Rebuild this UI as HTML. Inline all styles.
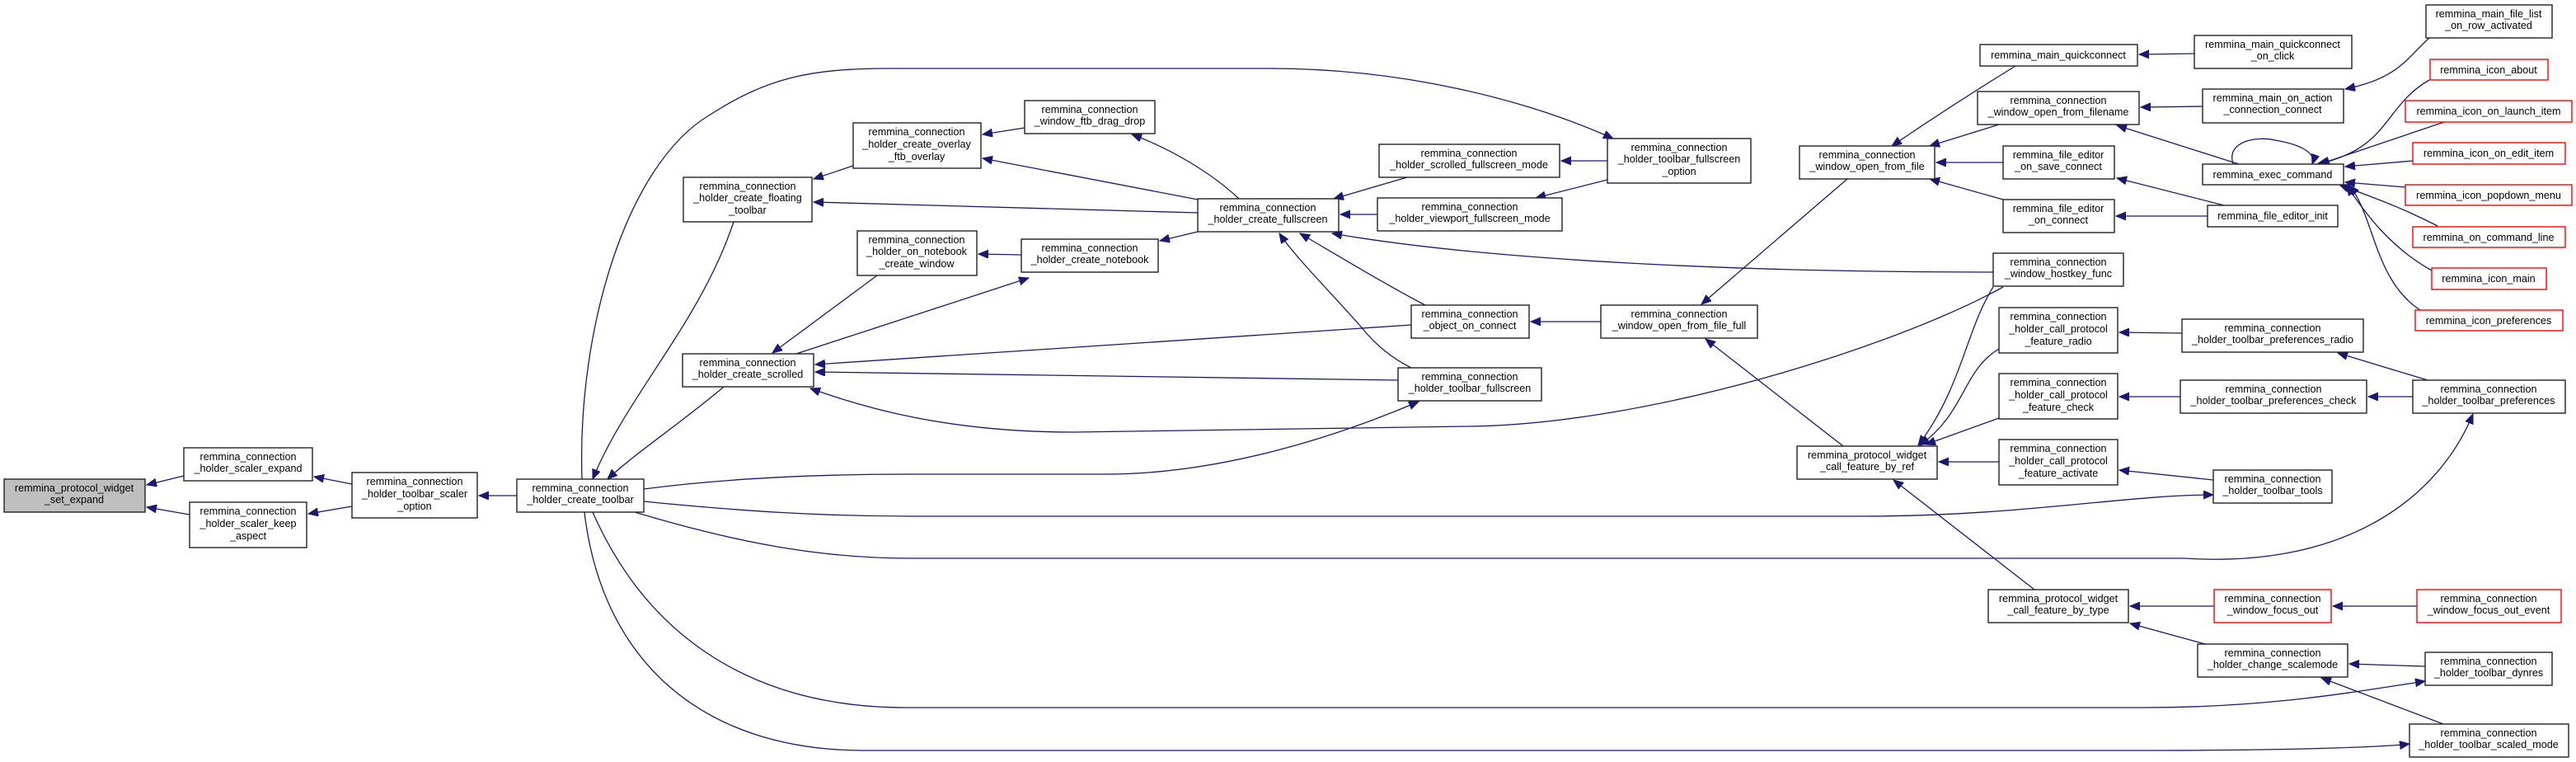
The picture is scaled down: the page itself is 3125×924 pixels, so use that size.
<!DOCTYPE html>
<html><head><meta charset="utf-8"><style>
html,body{margin:0;padding:0;background:#fff;}
svg{display:block;}
text{font-family:"Liberation Sans",Arial,sans-serif;font-size:12.6px;fill:#000;}
.e{fill:none;stroke:#191970;stroke-width:1.3;}
.n{fill:#fff;stroke:#222;stroke-width:1.4;}
.r{fill:#fff;stroke:#ff0000;stroke-width:1.4;}
</style></head><body>
<svg width="3125" height="924" viewBox="0 0 3125 924" xmlns="http://www.w3.org/2000/svg">
<defs>
<marker id="a" markerUnits="userSpaceOnUse" markerWidth="14" markerHeight="12" refX="12" refY="5" orient="auto">
<path d="M0,0 L12,5 L0,10 z" fill="#191970" stroke="#191970"/>
</marker>
</defs>
<g class="e" marker-end="url(#a)">
<path d="M223,577 L178,588"/>
<path d="M230,624 L178,615"/>
<path d="M427,587 L381,578"/>
<path d="M427,614 L374,623"/>
<path d="M627,601 L581,601"/>
<path d="M890,269 C850,390 760,480 719,581"/>
<path d="M878,469 C830,510 770,550 737,581"/>
<path d="M706,581 C700,400 760,200 860,140 C930,95 980,83 1080,83 L1540,83 C1700,83 1850,120 1957,168"/>
<path d="M781,593 C850,584 950,575 1105,575 L1341,575 C1480,575 1620,530 1721,487"/>
<path d="M781,608 C900,620 1000,626 1105,626 L2260,626 C2450,626 2580,600 2685,600"/>
<path d="M770,621 C900,660 1000,677 1105,677 L2650,677 C2850,690 2960,600 3000,502"/>
<path d="M719,621 C780,760 900,858 1099,858 L2600,858 C2750,858 2850,840 2942,826"/>
<path d="M709,621 C730,800 850,910 1048,910 L2600,910 C2800,910 2900,905 2923,902"/>
<path d="M1243,155 L1192,163"/>
<path d="M1453,242 L1192,192"/>
<path d="M1503,241 C1470,210 1420,180 1373,163"/>
<path d="M1035,201 L987,217"/>
<path d="M1453,258 L987,245"/>
<path d="M1239,309 L1187,308"/>
<path d="M1453,281 L1407,292"/>
<path d="M1064,334 L937,428"/>
<path d="M966,429 L1248,337"/>
<path d="M1707,215 L1618,241"/>
<path d="M1671,260 L1626,260"/>
<path d="M1950,195 L1894,195"/>
<path d="M1950,218 L1863,240"/>
<path d="M1712,446 C1690,435 1670,420 1650,395 C1610,350 1570,310 1552,283"/>
<path d="M1729,370 C1690,350 1640,320 1577,283"/>
<path d="M2418,330 C2100,330 1800,315 1616,283"/>
<path d="M1712,394 L989,442"/>
<path d="M1696,461 L989,451"/>
<path d="M2430,348 C2300,420 2000,515 1780,517 L1303,524 C1150,524 1050,495 983,471"/>
<path d="M1942,390 L1857,390"/>
<path d="M2241,217 L2064,369"/>
<path d="M2236,541 L2069,411"/>
<path d="M2445,80 C2380,120 2320,160 2295,177"/>
<path d="M2425,151 L2341,177"/>
<path d="M2430,197 L2349,197"/>
<path d="M2430,242 L2341,217"/>
<path d="M2662,65 L2595,66"/>
<path d="M2672,129 L2597,130"/>
<path d="M2716,199 L2568,152"/>
<path d="M2947,46 C2920,70 2910,95 2845,108"/>
<path d="M2709,199 C2700,170 2740,165 2760,170 C2790,175 2810,185 2805,199"/>
<path d="M2947,97 C2890,130 2900,180 2811,199"/>
<path d="M2965,148 L2814,199"/>
<path d="M2927,195 L2845,202"/>
<path d="M2918,227 L2845,221"/>
<path d="M2957,274 C2910,250 2880,240 2838,224"/>
<path d="M2950,328 C2900,300 2870,260 2847,225"/>
<path d="M2936,376 C2880,340 2880,260 2850,225"/>
<path d="M2698,249 L2568,216"/>
<path d="M2678,262 L2567,262"/>
<path d="M2418,348 C2385,400 2380,470 2327,540"/>
<path d="M2425,423 C2380,450 2385,500 2329,540"/>
<path d="M2425,507 L2336,539"/>
<path d="M2425,560 L2352,560"/>
<path d="M2685,582 L2571,570"/>
<path d="M2647,404 L2571,403"/>
<path d="M2945,461 L2836,428"/>
<path d="M2645,481 L2571,481"/>
<path d="M2927,481 L2873,481"/>
<path d="M2468,715 L2297,582"/>
<path d="M2686,735 L2584,735"/>
<path d="M2932,735 L2830,735"/>
<path d="M2675,781 L2584,756"/>
<path d="M2942,808 L2850,805"/>
<path d="M2964,878 L2816,822"/>
</g>

<!-- nodes -->
<g>
<rect x="5" y="581" width="171" height="40" fill="#bfbfbf" stroke="#222" stroke-width="1.4"/>
<text x="90" y="596" text-anchor="middle">remmina_protocol_widget</text><text x="90" y="610" text-anchor="middle">_set_expand</text>

<rect class="n" x="223" y="543" width="156" height="40"/>
<text x="301" y="558" text-anchor="middle">remmina_connection</text><text x="301" y="572" text-anchor="middle">_holder_scaler_expand</text>

<rect class="n" x="230" y="609" width="142" height="55"/>
<text x="301" y="624" text-anchor="middle">remmina_connection</text><text x="301" y="639" text-anchor="middle">_holder_scaler_keep</text><text x="301" y="654" text-anchor="middle">_aspect</text>

<rect class="n" x="427" y="573" width="152" height="55"/>
<text x="503" y="588" text-anchor="middle">remmina_connection</text><text x="503" y="603" text-anchor="middle">_holder_toolbar_scaler</text><text x="503" y="618" text-anchor="middle">_option</text>

<rect class="n" x="627" y="581" width="154" height="40"/>
<text x="704" y="596" text-anchor="middle">remmina_connection</text><text x="704" y="610" text-anchor="middle">_holder_create_toolbar</text>

<rect class="n" x="829" y="215" width="156" height="54"/>
<text x="907" y="230" text-anchor="middle">remmina_connection</text><text x="907" y="244" text-anchor="middle">_holder_create_floating</text><text x="907" y="259" text-anchor="middle">_toolbar</text>

<rect class="n" x="1035" y="149" width="155" height="55"/>
<text x="1112" y="164" text-anchor="middle">remmina_connection</text><text x="1112" y="179" text-anchor="middle">_holder_create_overlay</text><text x="1112" y="194" text-anchor="middle">_ftb_overlay</text>

<rect class="n" x="1243" y="122" width="158" height="40"/>
<text x="1322" y="137" text-anchor="middle">remmina_connection</text><text x="1322" y="151" text-anchor="middle">_window_ftb_drag_drop</text>

<rect class="n" x="1040" y="280" width="145" height="54"/>
<text x="1112" y="295" text-anchor="middle">remmina_connection</text><text x="1112" y="309" text-anchor="middle">_holder_on_notebook</text><text x="1112" y="324" text-anchor="middle">_create_window</text>

<rect class="n" x="1239" y="290" width="166" height="40"/>
<text x="1322" y="305" text-anchor="middle">remmina_connection</text><text x="1322" y="319" text-anchor="middle">_holder_create_notebook</text>

<rect class="n" x="828" y="429" width="159" height="40"/>
<text x="907" y="444" text-anchor="middle">remmina_connection</text><text x="907" y="458" text-anchor="middle">_holder_create_scrolled</text>

<rect class="n" x="1453" y="241" width="171" height="40"/>
<text x="1538" y="256" text-anchor="middle">remmina_connection</text><text x="1538" y="270" text-anchor="middle">_holder_create_fullscreen</text>

<rect class="n" x="1673" y="175" width="219" height="40"/>
<text x="1782" y="190" text-anchor="middle">remmina_connection</text><text x="1782" y="204" text-anchor="middle">_holder_scrolled_fullscreen_mode</text>

<rect class="n" x="1671" y="240" width="224" height="40"/>
<text x="1783" y="255" text-anchor="middle">remmina_connection</text><text x="1783" y="269" text-anchor="middle">_holder_viewport_fullscreen_mode</text>

<rect class="n" x="1950" y="168" width="174" height="54"/>
<text x="2037" y="183" text-anchor="middle">remmina_connection</text><text x="2037" y="197" text-anchor="middle">_holder_toolbar_fullscreen</text><text x="2037" y="212" text-anchor="middle">_option</text>

<rect class="n" x="1712" y="370" width="143" height="40"/>
<text x="1783" y="385" text-anchor="middle">remmina_connection</text><text x="1783" y="399" text-anchor="middle">_object_on_connect</text>

<rect class="n" x="1696" y="446" width="174" height="40"/>
<text x="1783" y="461" text-anchor="middle">remmina_connection</text><text x="1783" y="475" text-anchor="middle">_holder_toolbar_fullscreen</text>

<rect class="n" x="1942" y="370" width="190" height="40"/>
<text x="2037" y="385" text-anchor="middle">remmina_connection</text><text x="2037" y="399" text-anchor="middle">_window_open_from_file_full</text>

<rect class="n" x="2183" y="177" width="164" height="40"/>
<text x="2265" y="192" text-anchor="middle">remmina_connection</text><text x="2265" y="206" text-anchor="middle">_window_open_from_file</text>

<rect class="n" x="2402" y="54" width="191" height="26"/>
<text x="2497" y="71" text-anchor="middle">remmina_main_quickconnect</text>

<rect class="n" x="2399" y="111" width="196" height="40"/>
<text x="2497" y="126" text-anchor="middle">remmina_connection</text><text x="2497" y="140" text-anchor="middle">_window_open_from_filename</text>

<rect class="n" x="2430" y="177" width="135" height="40"/>
<text x="2497" y="192" text-anchor="middle">remmina_file_editor</text><text x="2497" y="206" text-anchor="middle">_on_save_connect</text>

<rect class="n" x="2430" y="242" width="135" height="40"/>
<text x="2497" y="257" text-anchor="middle">remmina_file_editor</text><text x="2497" y="271" text-anchor="middle">_on_connect</text>

<rect class="n" x="2418" y="307" width="158" height="40"/>
<text x="2497" y="322" text-anchor="middle">remmina_connection</text><text x="2497" y="336" text-anchor="middle">_window_hostkey_func</text>

<rect class="n" x="2425" y="373" width="144" height="55"/>
<text x="2497" y="388" text-anchor="middle">remmina_connection</text><text x="2497" y="403" text-anchor="middle">_holder_call_protocol</text><text x="2497" y="418" text-anchor="middle">_feature_radio</text>

<rect class="n" x="2425" y="453" width="144" height="55"/>
<text x="2497" y="468" text-anchor="middle">remmina_connection</text><text x="2497" y="483" text-anchor="middle">_holder_call_protocol</text><text x="2497" y="498" text-anchor="middle">_feature_check</text>

<rect class="n" x="2180" y="541" width="170" height="40"/>
<text x="2265" y="556" text-anchor="middle">remmina_protocol_widget</text><text x="2265" y="570" text-anchor="middle">_call_feature_by_ref</text>

<rect class="n" x="2425" y="533" width="144" height="55"/>
<text x="2497" y="548" text-anchor="middle">remmina_connection</text><text x="2497" y="563" text-anchor="middle">_holder_call_protocol</text><text x="2497" y="578" text-anchor="middle">_feature_activate</text>

<rect class="n" x="2685" y="570" width="144" height="40"/>
<text x="2757" y="585" text-anchor="middle">remmina_connection</text><text x="2757" y="599" text-anchor="middle">_holder_toolbar_tools</text>

<rect class="n" x="2412" y="715" width="170" height="40"/>
<text x="2497" y="730" text-anchor="middle">remmina_protocol_widget</text><text x="2497" y="744" text-anchor="middle">_call_feature_by_type</text>

<rect class="r" x="2686" y="715" width="142" height="40"/>
<text x="2757" y="730" text-anchor="middle">remmina_connection</text><text x="2757" y="744" text-anchor="middle">_window_focus_out</text>

<rect class="r" x="2932" y="715" width="175" height="40"/>
<text x="3019" y="730" text-anchor="middle">remmina_connection</text><text x="3019" y="744" text-anchor="middle">_window_focus_out_event</text>

<rect class="n" x="2666" y="781" width="182" height="40"/>
<text x="2757" y="796" text-anchor="middle">remmina_connection</text><text x="2757" y="810" text-anchor="middle">_holder_change_scalemode</text>

<rect class="n" x="2942" y="791" width="154" height="40"/>
<text x="3019" y="806" text-anchor="middle">remmina_connection</text><text x="3019" y="820" text-anchor="middle">_holder_toolbar_dynres</text>

<rect class="n" x="2923" y="878" width="193" height="40"/>
<text x="3019" y="893" text-anchor="middle">remmina_connection</text><text x="3019" y="907" text-anchor="middle">_holder_toolbar_scaled_mode</text>

<rect class="n" x="2662" y="43" width="191" height="40"/>
<text x="2757" y="58" text-anchor="middle">remmina_main_quickconnect</text><text x="2757" y="72" text-anchor="middle">_on_click</text>

<rect class="n" x="2672" y="108" width="171" height="41"/>
<text x="2757" y="123" text-anchor="middle">remmina_main_on_action</text><text x="2757" y="137" text-anchor="middle">_connection_connect</text>

<rect class="n" x="2672" y="199" width="171" height="25"/>
<text x="2757" y="216" text-anchor="middle">remmina_exec_command</text>

<rect class="n" x="2678" y="249" width="158" height="26"/>
<text x="2757" y="266" text-anchor="middle">remmina_file_editor_init</text>

<rect class="n" x="2647" y="387" width="220" height="40"/>
<text x="2757" y="402" text-anchor="middle">remmina_connection</text><text x="2757" y="416" text-anchor="middle">_holder_toolbar_preferences_radio</text>

<rect class="n" x="2645" y="461" width="226" height="40"/>
<text x="2758" y="476" text-anchor="middle">remmina_connection</text><text x="2758" y="490" text-anchor="middle">_holder_toolbar_preferences_check</text>

<rect class="n" x="2927" y="461" width="185" height="40"/>
<text x="3019" y="476" text-anchor="middle">remmina_connection</text><text x="3019" y="490" text-anchor="middle">_holder_toolbar_preferences</text>

<rect class="n" x="2943" y="6" width="153" height="40"/>
<text x="3019" y="21" text-anchor="middle">remmina_main_file_list</text><text x="3019" y="35" text-anchor="middle">_on_row_activated</text>

<rect class="r" x="2948" y="72" width="143" height="25"/>
<text x="3019" y="89" text-anchor="middle">remmina_icon_about</text>
<rect class="r" x="2918" y="122" width="202" height="26"/>
<text x="3019" y="139" text-anchor="middle">remmina_icon_on_launch_item</text>
<rect class="r" x="2927" y="173" width="185" height="26"/>
<text x="3019" y="190" text-anchor="middle">remmina_icon_on_edit_item</text>
<rect class="r" x="2918" y="224" width="202" height="25"/>
<text x="3019" y="241" text-anchor="middle">remmina_icon_popdown_menu</text>
<rect class="r" x="2927" y="275" width="185" height="25"/>
<text x="3019" y="292" text-anchor="middle">remmina_on_command_line</text>
<rect class="r" x="2950" y="325" width="139" height="26"/>
<text x="3019" y="342" text-anchor="middle">remmina_icon_main</text>
<rect class="r" x="2930" y="376" width="179" height="25"/>
<text x="3019" y="393" text-anchor="middle">remmina_icon_preferences</text>
</g>
</svg>
</body></html>
